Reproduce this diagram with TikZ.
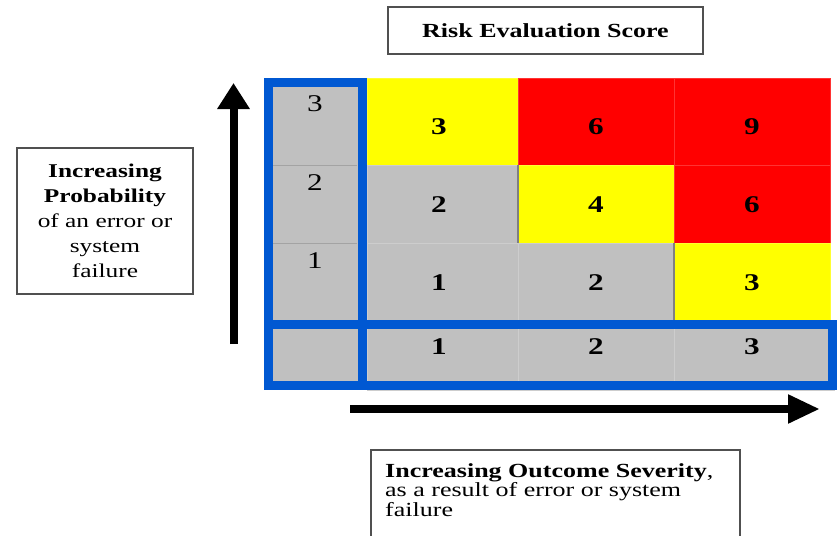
\documentclass[tikz,border=0pt]{standalone}
\usepackage{fontspec}
\setmainfont{Liberation Serif}[FakeStretch=1.3]
\usetikzlibrary{arrows.meta}
\definecolor{cgray}{HTML}{C0C0C0}
\definecolor{cyel}{HTML}{FFFF00}
\definecolor{cred}{HTML}{FF0000}
\definecolor{cblue}{HTML}{0058D2}
\definecolor{cbox}{HTML}{505050}
\begin{document}
\begin{tikzpicture}[x=1pt,y=-1pt,
  cellbox/.style={draw=#1!80!white, line width=0.6pt, fill=#1},
  num/.style={font=\fontsize{24}{24}\selectfont\bfseries, inner sep=0pt},
  lnum/.style={font=\fontsize{24}{24}\selectfont, inner sep=0pt},
  frame/.style={draw=cblue, line width=9pt},
  txt/.style={font=\fontsize{19.5}{25}\selectfont},
  lbox/.style={draw=cbox, line width=1.2pt, fill=white}]
\useasboundingbox (0,0) rectangle (839,536);
% left column background
\fill[cgray] (264,78) rectangle (367,390);
\draw[cgray!85!black, line width=0.5pt] (273,165) -- (357,165) (273,243) -- (357,243);
% grid cells
\path[cellbox=cyel] (367,78) rectangle (518,165);
\path[cellbox=cred] (518,78) rectangle (674,165);
\path[cellbox=cred] (674,78) rectangle (830,165);
\path[cellbox=cgray] (367,165) rectangle (518,243);
\path[cellbox=cyel] (518,165) rectangle (674,243);
\path[cellbox=cred] (674,165) rectangle (830,243);
\path[cellbox=cgray] (367,243) rectangle (518,321);
\path[cellbox=cgray] (518,243) rectangle (674,321);
\path[cellbox=cyel] (674,243) rectangle (830,321);
\path[cellbox=cgray] (367,321) rectangle (518,390);
\path[cellbox=cgray] (518,321) rectangle (674,390);
\path[cellbox=cgray] (674,321) rectangle (834,390);
\draw[gray, line width=1.2pt] (518,165) -- (518,243) (674,243) -- (674,321);
% frames
\draw[frame] (268.5,82) rectangle (362,385.5);
\draw[frame] (268.5,324.5) rectangle (832.5,385.5);
% numbers
\node[num] (c13) at (439,127) {3};
\node[num] (c23) at (596,127) {6};
\node[num] (c33) at (752,127) {9};
\node[num] (c12) at (439,205) {2};
\node[num] (c22) at (596,205) {4};
\node[num] (c32) at (752,205) {6};
\node[num] (c11) at (439,283) {1};
\node[num] (c21) at (596,283) {2};
\node[num] (c31) at (752,283) {3};
\node[num] (s1) at (439,347) {1};
\node[num] (s2) at (596,347) {2};
\node[num] (s3) at (752,347) {3};
\node[lnum] (p3) at (315,104) {3};
\node[lnum] (p2) at (315,183) {2};
\node[lnum] (p1) at (315,261) {1};
% title
\node[lbox, txt, font=\fontsize{20}{25}\selectfont, minimum width=315pt, minimum height=47pt, inner sep=0pt] (title) at (545.5,30.5) {\textbf{Risk Evaluation Score}};
% left box
\node[lbox, txt, minimum width=176pt, minimum height=146pt, inner sep=0pt, align=center] (prob) at (105,221)
  {\textbf{Increasing}\\\textbf{Probability}\\of an error or\\system\\failure};
% bottom box
\draw[cbox, line width=1.2pt] (371,540) -- (371,450) -- (740,450) -- (740,540);
\node[txt, anchor=north west, align=left, inner sep=0pt, font=\fontsize{20}{19.5}\selectfont] (sev) at (385,463)
  {\textbf{Increasing Outcome Severity},\\as a result of error or system\\failure};
% arrows
\coordinate (ua) at (233.5,344);
\coordinate (ub) at (233.5,83);
\coordinate (ra) at (350,409);
\coordinate (rb) at (820,409);
\draw[line width=8pt, -{Triangle[length=26pt,width=31pt]}] (ua) -- (ub);
\draw[line width=8pt, -{Triangle[length=32pt,width=27pt]}] (ra) -- (rb);
\end{tikzpicture}
\end{document}
